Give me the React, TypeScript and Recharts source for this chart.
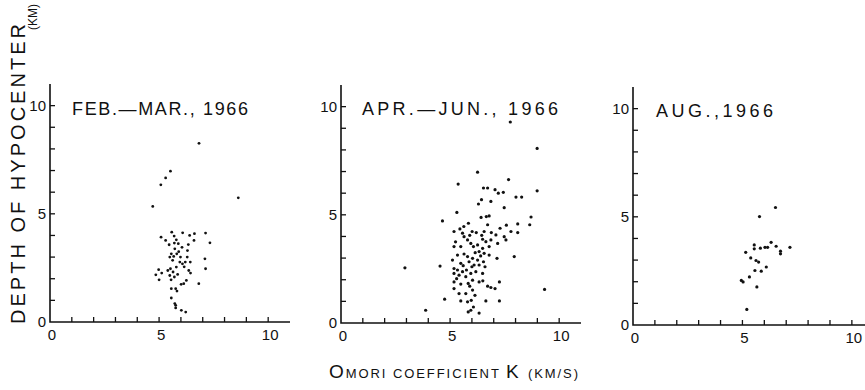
import { ScatterChart, Scatter, XAxis, YAxis } from 'recharts';

// Omori coefficient K (km/s) vs depth of hypocenter (km)
const febMar: [number, number][] = [
  [6.83, 8.26], [5.52, 6.97], [5.3, 6.66], [5.08, 6.34], [4.71, 5.34], [8.63, 5.74],
  [5.09, 3.92], [5.3, 3.77], [5.58, 4.15], [5.69, 3.97], [6.08, 4.12], [6.4, 4.0],
  [6.62, 4.08], [7.13, 4.11], [7.33, 3.66], [6.6, 3.77], [6.34, 3.58], [5.46, 3.57],
  [5.79, 3.8], [5.88, 3.62], [5.72, 3.38], [5.56, 3.15], [5.49, 3.0], [5.67, 3.03],
  [5.81, 3.15], [5.98, 3.0], [6.07, 2.69], [6.2, 2.77], [6.29, 3.0], [6.43, 2.77],
  [7.1, 2.92], [7.13, 2.46], [5.4, 2.38], [5.52, 2.46], [5.64, 2.31], [5.79, 2.54],
  [5.95, 2.77], [6.36, 2.38], [6.44, 2.26], [4.98, 2.42], [5.12, 2.26], [4.85, 2.18],
  [5.0, 1.95], [5.49, 2.15], [5.55, 1.95], [5.7, 2.08], [6.25, 1.92], [6.01, 1.74],
  [6.13, 1.77], [6.82, 1.77], [5.56, 1.54], [5.76, 1.54], [5.82, 1.43], [5.56, 1.11],
  [5.72, 0.85], [5.76, 0.77], [5.76, 0.65], [6.02, 0.54], [6.22, 0.46], [5.9, 3.25],
  [6.05, 3.45], [5.62, 2.85], [6.15, 2.55], [5.85, 2.2], [6.3, 3.3], [5.7, 3.65],
];

const aprJun: [number, number][] = [
  [7.76, 9.29], [8.99, 8.07], [6.26, 6.97], [7.68, 6.63], [5.37, 6.42], [8.99, 6.11],
  [6.53, 6.24], [6.72, 6.24], [7.06, 6.16], [7.21, 6.0], [7.44, 6.04], [8.02, 5.82],
  [8.28, 5.82], [6.44, 5.7], [6.87, 5.62], [6.3, 5.5], [7.48, 5.33], [5.31, 5.11],
  [8.71, 4.9], [6.66, 4.92], [6.79, 4.95], [6.42, 4.88], [4.65, 4.72], [8.65, 4.54],
  [8.1, 4.58], [7.58, 4.52], [7.29, 4.38], [6.72, 4.54], [5.84, 4.61], [5.63, 4.46],
  [5.18, 4.23], [5.57, 4.15], [5.64, 3.99], [6.01, 4.23], [6.2, 4.18], [6.56, 4.23],
  [6.89, 4.18], [7.79, 4.23], [8.1, 4.18], [7.1, 4.07], [7.48, 3.99], [7.56, 3.84],
  [7.18, 3.68], [6.87, 3.84], [6.64, 3.76], [6.49, 3.87], [6.26, 3.61], [5.95, 3.68],
  [5.8, 3.84], [5.18, 3.53], [5.49, 3.53], [6.07, 3.53], [6.49, 3.45], [6.79, 3.53],
  [6.33, 3.3], [6.56, 3.22], [6.79, 3.14], [7.94, 3.07], [7.15, 2.99], [5.34, 3.14],
  [5.64, 3.19], [5.8, 3.07], [6.03, 2.99], [6.26, 2.91], [6.53, 2.83], [5.11, 2.91],
  [5.49, 2.76], [5.87, 2.83], [6.1, 2.68], [6.33, 2.68], [4.54, 2.63], [2.93, 2.55],
  [5.18, 2.52], [5.34, 2.45], [5.57, 2.37], [5.75, 2.45], [5.95, 2.29], [6.18, 2.37],
  [6.49, 2.29], [5.18, 2.29], [5.41, 2.21], [5.72, 2.14], [6.03, 1.98], [6.33, 1.9],
  [7.26, 1.9], [9.33, 1.55], [5.18, 1.9], [5.49, 1.8], [5.83, 1.83], [5.18, 1.59],
  [5.41, 1.36], [5.72, 1.36], [6.03, 1.52], [6.14, 1.28], [6.72, 1.7], [6.87, 1.64],
  [7.06, 1.59], [5.49, 1.02], [5.8, 0.98], [5.97, 1.05], [6.64, 1.02], [7.26, 1.02],
  [4.75, 1.1], [6.07, 0.74], [5.95, 0.59], [5.83, 0.51], [6.33, 0.46], [3.88, 0.59],
  [5.25, 3.75], [5.9, 4.05], [6.4, 3.1], [6.6, 2.6], [5.3, 2.05], [6.0, 2.6],
  [5.45, 4.35], [6.15, 3.25], [5.6, 2.65], [6.45, 4.05], [5.9, 1.7], [6.5, 1.95],
];

const aug: [number, number][] = [
  [6.51, 5.43], [5.78, 5.01], [6.31, 3.82], [6.54, 3.64], [6.15, 3.59], [6.03, 3.59],
  [5.82, 3.55], [5.54, 3.7], [5.54, 3.52], [7.17, 3.59], [6.74, 3.41], [6.74, 3.29],
  [5.15, 3.36], [5.38, 3.1], [5.62, 2.98], [5.74, 2.91], [6.09, 2.68], [5.57, 2.52],
  [5.86, 2.49], [5.32, 2.22], [4.95, 2.06], [5.03, 1.99], [5.66, 1.76], [5.2, 0.72],
];

const tickValues = [0, 1, 2, 3, 4, 5, 6, 7, 8, 9, 10];
const labelledTicks = [0, 5, 10];
const Y_MAX = 11;

const INK = '#111111';
const FONT = '"Liberation Sans", Arial, sans-serif';

// plot boxes in page pixels
const panels = [
  { points: febMar, chartLeft: 0, chartWidth: 300, left: 50, top: 84, width: 240, height: 238, xMax: 11, r: 1.4 },
  { points: aprJun, chartLeft: 295, chartWidth: 290, left: 341, top: 85, width: 240, height: 238, xMax: 11, r: 1.6 },
  { points: aug, chartLeft: 590, chartWidth: 275, left: 633, top: 87, width: 232, height: 238, xMax: 10.6, r: 1.6 },
];

const CHART_TOP = 60;
const CHART_H = 290;

function XTick(p: any) {
  const v = p.payload.value;
  if (!labelledTicks.includes(v)) return <g />;
  return (
    <text x={p.x + 2} y={p.y + 18} textAnchor="middle" fontSize={15} fontFamily={FONT} fill={INK}>
      {v}
    </text>
  );
}

function YTick(p: any) {
  const v = p.payload.value;
  if (!labelledTicks.includes(v)) return <g />;
  return (
    <text x={p.x - 4} y={p.y + 5} textAnchor="end" fontSize={15} fontFamily={FONT} fill={INK}>
      {v}
    </text>
  );
}

function Panel({ pnl }: { pnl: (typeof panels)[number] }) {
  const data = pnl.points.map(([k, d]) => ({ k, d }));
  const margin = {
    top: pnl.top - CHART_TOP,
    left: pnl.left - pnl.chartLeft - 30,
    right: pnl.chartLeft + pnl.chartWidth - (pnl.left + pnl.width),
    bottom: CHART_H - (pnl.top + pnl.height - CHART_TOP) - 24,
  };
  return (
    <div style={{ position: 'absolute', left: pnl.chartLeft, top: CHART_TOP }}>
      <ScatterChart width={pnl.chartWidth} height={CHART_H} margin={margin}>
        <XAxis
          type="number"
          dataKey="k"
          domain={[0, pnl.xMax]}
          ticks={tickValues}
          interval={0}
          height={24}
          tickSize={0}
          tickMargin={0}
          tickLine={false}
          axisLine={false}
          tick={<XTick />}
        />
        <YAxis
          type="number"
          dataKey="d"
          domain={[0, Y_MAX]}
          ticks={tickValues}
          interval={0}
          width={30}
          tickSize={0}
          tickMargin={0}
          tickLine={false}
          axisLine={false}
          tick={<YTick />}
        />
        <Scatter
          data={data}
          isAnimationActive={false}
          shape={(s: any) => <circle cx={s.cx} cy={s.cy} r={pnl.r} fill={INK} />}
        />
      </ScatterChart>
    </div>
  );
}

// axis frame + inward ticks, laid out on the same plot boxes
function Frames() {
  return (
    <g stroke={INK} fill="none">
      {panels.map((p, i) => {
        const bottom = p.top + p.height;
        const sx = (v: number) => p.left + (v / p.xMax) * p.width;
        const sy = (v: number) => bottom - (v / Y_MAX) * p.height;
        return (
          <g key={i}>
            <path d={`M${p.left},${p.top}V${bottom}H${p.left + p.width}`} strokeWidth={1.6} />
            {tickValues.filter((v) => v > 0).map((v) => (
              <g key={v} strokeWidth={1.3}>
                <path d={`M${sx(v)},${bottom}v-5`} />
                <path d={`M${p.left},${sy(v)}h5`} />
              </g>
            ))}
          </g>
        );
      })}
    </g>
  );
}

export default function App() {
  return (
    <div style={{ position: 'absolute', left: 0, top: 0, width: 865, height: 390 }}>
      {panels.map((p, i) => (
        <Panel key={i} pnl={p} />
      ))}
      <svg width={865} height={390} style={{ position: 'absolute', left: 0, top: 0, pointerEvents: 'none' }}>
        <Frames />
        <g fontFamily={FONT} fill={INK}>
          <text x={72} y={115} fontSize={18} textLength={176} lengthAdjust="spacing">FEB.—MAR., 1966</text>
          <text x={362} y={115} fontSize={18} textLength={196} lengthAdjust="spacing">APR.—JUN.,  1966</text>
          <text x={656} y={117} fontSize={18} textLength={117} lengthAdjust="spacing">AUG.,1966</text>
          <text x={25} y={174} fontSize={20} textAnchor="middle" transform="rotate(-90 25 174)" textLength={300} lengthAdjust="spacing">
            DEPTH OF HYPOCENTER
          </text>
          <text x={37} y={17} fontSize={12} textAnchor="middle" transform="rotate(-90 37 17)">
            (KM)
          </text>
          <text x={329} y={378} textLength={249} lengthAdjust="spacing">
            <tspan fontSize={19}>O</tspan>
            <tspan fontSize={13}>MORI COEFFICIENT </tspan>
            <tspan fontSize={19}>K </tspan>
            <tspan fontSize={13}>(KM/S)</tspan>
          </text>
        </g>
      </svg>
    </div>
  );
}
